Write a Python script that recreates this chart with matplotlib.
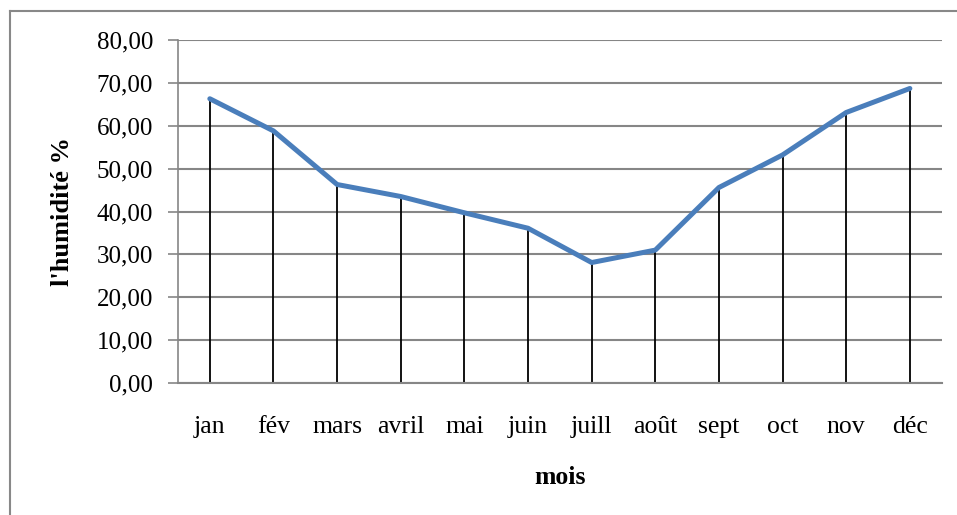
import matplotlib
matplotlib.use("Agg")
import matplotlib.pyplot as plt
from matplotlib.lines import Line2D
from matplotlib.ticker import FuncFormatter

plt.rcParams['font.family'] = ['Liberation Serif', 'DejaVu Serif']

# données
mois = ["jan", "fév", "mars", "avril", "mai", "juin",
        "juill", "août", "sept", "oct", "nov", "déc"]
humidite = [66.3, 58.8, 46.3, 43.5, 39.7, 36.1,
            28.1, 31.0, 45.6, 53.2, 63.1, 68.7]
yticks = [0, 10, 20, 30, 40, 50, 60, 70, 80]

fig = plt.figure(figsize=(9.57, 5.15), dpi=100)
ax = fig.add_axes([0.186, 0.2563, 0.798, 0.666])

x = [i + 0.5 for i in range(len(mois))]

# lignes verticales noires (haut-bas)
ax.vlines(x, 0, humidite, color='black', linewidth=1.3, zorder=2)
ax.plot(x, humidite, color='#4A7EBB', linewidth=3.6, zorder=3,
        solid_capstyle='round', solid_joinstyle='round')

ax.set_xlim(0, len(mois))
ax.set_ylim(0, 80)
ax.set_yticks(yticks)
ax.yaxis.set_major_formatter(FuncFormatter(lambda v, p: f"{v:.2f}".replace('.', ',')))
ax.set_xticks(x)
ax.set_xticklabels(mois)

ax.grid(axis='y', color='#868686', linewidth=1.5, zorder=1)
ax.set_axisbelow(True)
for s in ['top', 'right']:
    ax.spines[s].set_visible(False)
ax.spines['left'].set_color('#868686')
ax.spines['left'].set_linewidth(1.2)
ax.spines['bottom'].set_color('#868686')
ax.spines['bottom'].set_linewidth(1.5)

ax.tick_params(axis='y', length=7, width=1.2, color='#868686',
               labelsize=18, pad=11)
ax.tick_params(axis='x', length=0, labelsize=18.5, pad=24)

ax.set_xlabel("mois", fontsize=18.5, fontweight='bold', labelpad=20)
ax.set_ylabel("l'humidité %", fontsize=19, fontweight='bold', labelpad=16)

# cadre extérieur (coupé à droite et en bas)
W, H = 957, 515
fig.add_artist(Line2D([10 / W, 1], [1 - 11 / H, 1 - 11 / H],
                      color='#888888', linewidth=1.5))
fig.add_artist(Line2D([10 / W, 10 / W], [1 - 11 / H, 0],
                      color='#888888', linewidth=1.5))

fig.savefig("out.png", dpi=100)
